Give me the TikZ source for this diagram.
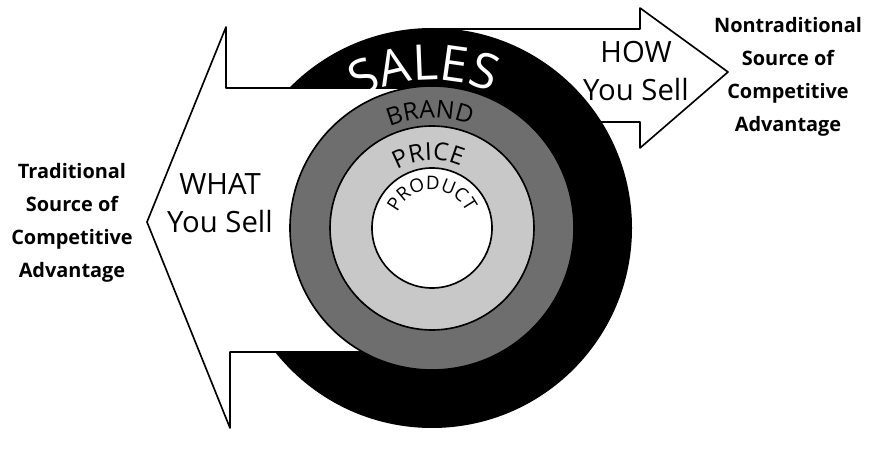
\documentclass[tikz,border=0pt]{standalone}
\usepackage{fontspec}
\setmainfont{Open Sans}
\usetikzlibrary{decorations.text}
\definecolor{grisfonce}{HTML}{6E6E6E}
\definecolor{grisclair}{HTML}{C8C8C8}
\begin{document}
\begin{tikzpicture}[x=0.03cm,y=0.03cm]
	% Styles
	\tikzstyle{contour}=[draw=black,line width=1.4pt,line join=round]
	\tikzstyle{fleche}=[contour,fill=white]
	\tikzstyle{etiquette}=[align=center,font=\fontsize{17}{28}\selectfont\bfseries]
	\tikzstyle{legende}=[align=center,font=\fontsize{25}{32}\selectfont]
	\tikzstyle{anneau}=[decorate,decoration={text along path,text align=center}]
	% Dimensions
	\def\RayonVentes{200}
	\def\RayonMarque{142}
	\def\RayonPrix{102}
	\def\RayonProduit{60}
	\useasboundingbox (0,0) rectangle (876,449);
	\coordinate (C) at (432,221);
	% Fleche HOW (derriere le cercle noir)
	\draw[fleche] (440,420) -- (640,420) -- (640,441) -- (728,377) -- (640,301) -- (640,327) -- (440,327) -- cycle;
	% Cercle SALES
	\fill[black] (C) circle[radius=\RayonVentes];
	% Fleche WHAT
	\draw[fleche] (432,361) -- (226,361) -- (226,422) -- (147,227) -- (230,21) -- (230,97) -- (432,97) -- cycle;
	% Anneaux
	\draw[contour,fill=grisfonce] (C) circle[radius=\RayonMarque];
	\draw[contour,fill=grisclair] (C) circle[radius=\RayonPrix];
	\draw[contour,fill=white] (C) circle[radius=\RayonProduit];
	% Textes courbes
	\path[anneau,decoration={text={|\fontsize{42}{42}\selectfont\color{white}|SALES}}] (C) ++(163:148) arc[start angle=163,end angle=23,radius=148];
	\path[anneau,decoration={text={|\fontsize{21}{21}\selectfont|BRAND}}] (C) ++(171:110) arc[start angle=171,end angle=11,radius=110];
	\path[anneau,decoration={text={|\fontsize{21}{21}\selectfont|PRICE}}] (C) ++(183:68) arc[start angle=183,end angle=3,radius=68];
	\path[anneau,decoration={text={|\fontsize{16}{16}\selectfont|PRODUCT}}] (C) ++(200:38) arc[start angle=200,end angle=-20,radius=38];
	% Textes
	\node[legende] (quoi) at (220,246) {WHAT\\You Sell};
	\node[legende] (comment) at (636,378) {HOW\\You Sell};
	\node[etiquette] (traditionnel) at (72,226) {Traditional\\Source of\\Competitive\\Advantage};
	\node[etiquette] (nontraditionnel) at (788,372) {Nontraditional\\Source of\\Competitive\\Advantage};
\end{tikzpicture}
\end{document}
